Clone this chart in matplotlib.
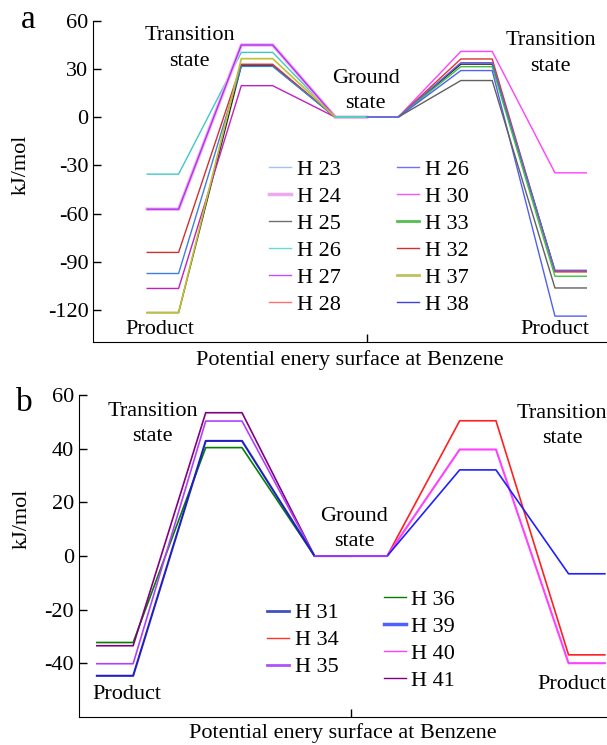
import matplotlib
matplotlib.use('Agg')
import matplotlib.pyplot as plt
from matplotlib.lines import Line2D

plt.rcParams['font.family'] = 'Liberation Serif'
plt.rcParams['font.size'] = 16
plt.rcParams['axes.unicode_minus'] = False

# stage positions along the reaction coordinate
left_x = [0, 1, 3, 4, 6, 7]      # product -> TS -> ground
right_x = [7, 8, 10, 11, 13, 14]  # ground -> TS -> product

# ---- panel a data (kJ/mol) ----
a_left_prod = [-121.5, -35.4, -57.2, -57.2, -84.1, -97.2, -106.5, -121.5]
a_left_ts = [32.0, 40.3, 44.9, 44.9, 32.9, 31.6, 19.6, 36.4]
a_left_col = ['#303030', '#40c8c8', '#f0b0f0', '#b030f0', '#d03030', '#3c80e0', '#c020c0', '#c0c030']
a_left_lw = [1, 1, 2.5, 1, 1, 1, 1, 1.2]

a_right_ts = [33.0, 40.9, 36.2, 33.9, 31.4, 29.0, 22.8]
a_right_prod = [-95.5, -34.6, -96.2, -95.2, -98.9, -123.7, -106.2]
a_right_col = ['#202020', '#ff40ff', '#e03030', '#6060f0', '#40c040', '#5060f0', '#606060']

a_leg1 = ['H 23', 'H 24', 'H 25', 'H 26', 'H 27', 'H 28']
a_leg1_col = ['#a0c4f0', '#f0a8f0', '#707070', '#60dcdc', '#c050ff', '#ff7070']
a_leg1_lw = [1, 2.5, 1, 1, 1, 1]
a_leg2 = ['H 26', 'H 30', 'H 33', 'H 32', 'H 37', 'H 38']
a_leg2_col = ['#7070ff', '#ff50ff', '#50c050', '#d03030', '#c0c060', '#4040e0']
a_leg2_lw = [1, 1, 2, 1, 2, 1]

# ---- panel b data (kJ/mol) ----
b_left_prod = [-32.2, -33.4, -40.1, -44.6]
b_left_ts = [40.4, 53.4, 50.3, 42.9]
b_left_col = ['#008000', '#800080', '#b040ff', '#2020c0']
b_left_lw = [1.2, 1.2, 1.2, 1.5]

b_right_ts = [50.4, 39.7, 32.1]
b_right_prod = [-36.8, -39.9, -6.6]
b_right_col = ['#ff2020', '#ff40ff', '#2020ff']
b_right_lw = [1.2, 1.5, 1.2]

b_leg1 = ['H 31', 'H 34', 'H 35']
b_leg1_col = ['#4050c0', '#ff3030', '#b050ff']
b_leg1_lw = [2, 1, 2]
b_leg2 = ['H 36', 'H 39', 'H 40', 'H 41']
b_leg2_col = ['#008000', '#5060ff', '#ff40ff', '#800080']
b_leg2_lw = [1, 2.5, 1, 1]

fig = plt.figure(figsize=(6.07, 7.45), dpi=100)
ax1 = fig.add_axes([0.1537, 0.5405, 0.8463, 0.4317])
ax2 = fig.add_axes([0.1297, 0.0374, 0.8703, 0.4324])


def draw_side(ax, xs, first, second, cols, lws, left=True):
    for i in range(len(first)):
        if left:
            y = [first[i], first[i], second[i], second[i], 0, 0]
        else:
            y = [0, 0, first[i], first[i], second[i], second[i]]
        ax.plot(xs, y, color=cols[i], lw=lws[i])


def add_legend(ax, names, cols, lws, anchor):
    handles = [Line2D([], [], color=c, lw=w) for c, w in zip(cols, lws)]
    leg = ax.legend(handles, names, loc='upper left', bbox_to_anchor=anchor,
                    frameon=False, borderpad=0, borderaxespad=0,
                    handlelength=1.0, handletextpad=0.25, labelspacing=0.29)
    return leg


def style(ax, ylim, yticks):
    ax.set_ylim(*ylim)
    ax.set_yticks(yticks)
    ax.set_xticks([7])
    ax.set_xticklabels([])
    ax.spines['top'].set_visible(False)
    ax.spines['right'].set_visible(False)
    ax.tick_params(direction='in', length=6, width=1, labelsize=16)
    ax.set_ylabel('kJ/mol')
    ax.set_xlabel('Potential enery surface at Benzene')


# panel a
draw_side(ax1, left_x, a_left_prod, a_left_ts, a_left_col, a_left_lw, left=True)
draw_side(ax1, right_x, a_right_ts, a_right_prod, a_right_col, [1] * len(a_right_ts), left=False)
ax1.plot([6, 7], [0, 0], color='#40d8d8', lw=1.2)
ax1.plot([7, 8], [0, 0], color='#7070f0', lw=1.2)
ax1.set_xlim(-1.72, 14.66)
style(ax1, (-140, 60), [60, 30, 0, -30, -60, -90, -120])
ax1.yaxis.set_label_coords(-0.121, 0.551)
ax1.xaxis.labelpad = 2
leg = add_legend(ax1, a_leg1, a_leg1_col, a_leg1_lw, (0.342, 0.568))
ax1.add_artist(leg)
add_legend(ax1, a_leg2, a_leg2_col, a_leg2_lw, (0.591, 0.568))
ax1.text(1.35, 42.7, 'Transition\nstate', ha='center', va='center', linespacing=1.45)
ax1.text(6.97, 16.3, 'Ground\nstate', ha='center', va='center', linespacing=1.45)
ax1.text(12.87, 39.7, 'Transition\nstate', ha='center', va='center', linespacing=1.45)
ax1.text(0.41, -132, 'Product', ha='center', va='center')
ax1.text(13.0, -132, 'Product', ha='center', va='center')
fig.text(28 / 607, 1 - 20 / 745, 'a', fontsize=24, ha='center', va='center')

# panel b
draw_side(ax2, left_x, b_left_prod, b_left_ts, b_left_col, b_left_lw, left=True)
draw_side(ax2, right_x, b_right_ts, b_right_prod, b_right_col, b_right_lw, left=False)
ax2.plot([6, 8], [0, 0], color='#b040ff', lw=1.2)
ax2.set_xlim(-0.5, 14.06)
style(ax2, (-60, 60), [60, 40, 20, 0, -20, -40])
ax2.yaxis.set_label_coords(-0.090, 0.615)
ax2.xaxis.labelpad = 1
leg = add_legend(ax2, b_leg1, b_leg1_col, b_leg1_lw, (0.356, 0.355))
ax2.add_artist(leg)
add_legend(ax2, b_leg2, b_leg2_col, b_leg2_lw, (0.577, 0.396))
ax2.text(1.54, 49.1, 'Transition\nstate', ha='center', va='center', linespacing=1.45)
ax2.text(7.1, 10.1, 'Ground\nstate', ha='center', va='center', linespacing=1.45)
ax2.text(12.83, 48.5, 'Transition\nstate', ha='center', va='center', linespacing=1.45)
ax2.text(0.82, -51.4, 'Product', ha='center', va='center')
ax2.text(13.1, -47.9, 'Product', ha='center', va='center')
fig.text(24 / 607, 1 - 403 / 745, 'b', fontsize=24, ha='center', va='center')

fig.savefig('out.png', dpi=100)
